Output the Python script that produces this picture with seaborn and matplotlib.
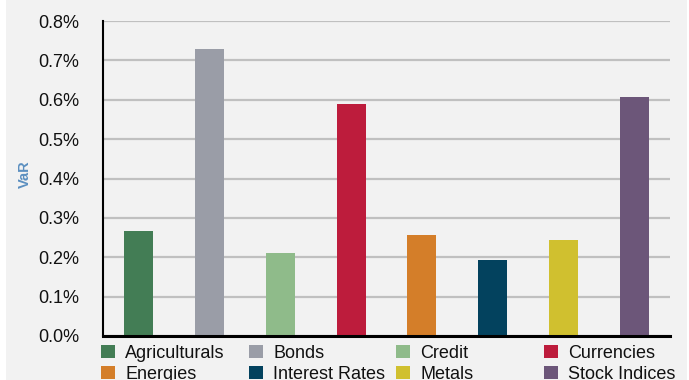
import matplotlib
matplotlib.use("Agg")
import matplotlib.pyplot as plt
import seaborn as sns
import pandas as pd
from matplotlib.patches import Rectangle, Patch
from matplotlib.ticker import FuncFormatter

categories = ["Agriculturals", "Bonds", "Credit", "Currencies",
              "Energies", "Interest Rates", "Metals", "Stock Indices"]
var_values = [0.267, 0.728, 0.212, 0.590, 0.257, 0.194, 0.245, 0.607]
colors = ["#437d55", "#9a9da7", "#8fbb8a", "#bd1c3c",
          "#d47e29", "#03425e", "#d0c02f", "#6c5679"]
y_ticks = [0.0, 0.1, 0.2, 0.3, 0.4, 0.5, 0.6, 0.7, 0.8]

df = pd.DataFrame({"cat": categories, "val": var_values})

sns.set_theme(style="white")
plt.rcParams["font.family"] = ["Liberation Sans", "DejaVu Sans"]

fig = plt.figure(figsize=(6.89, 3.80), dpi=100, facecolor="white")
fig.patches.append(Rectangle((6 / 689, 0), 1 - 8 / 689, 1, transform=fig.transFigure,
                             facecolor="#f2f2f2", edgecolor="none", zorder=-10))

ax = fig.add_axes([103 / 689, 1 - 336 / 380, 567 / 689, 315 / 380])
ax.set_facecolor("none")
ax.set_zorder(1)

sns.barplot(data=df, x="cat", y="val", hue="cat", palette=colors,
            order=categories, hue_order=categories, width=0.41,
            dodge=False, legend=False, ax=ax, saturation=1, linewidth=0)

ax.set_ylim(0, 0.8)
ax.set_xlim(-0.5, len(categories) - 0.5)
ax.set_yticks(y_ticks)
ax.yaxis.set_major_formatter(FuncFormatter(lambda v, p: f"{v:.1f}%"))
ax.tick_params(axis="y", labelsize=13, length=0, pad=17, colors="#111111")
ax.set_xticks([])
ax.set_xlabel("")
ax.set_ylabel("VaR", fontsize=10.5, fontweight="bold", color="#5b8fc0")
ax.yaxis.set_label_coords(-0.126, 0.514)

ax.grid(axis="y", color="#c0c0c0", linewidth=1.6, zorder=0)
ax.set_axisbelow(True)
for s in ["top", "right"]:
    ax.spines[s].set_visible(False)
ax.spines["left"].set_color("black")
ax.spines["left"].set_linewidth(1.5)
ax.spines["bottom"].set_color("black")
ax.spines["bottom"].set_linewidth(2.2)

# legend: 4 columns of 2 entries, evenly spaced, row-wise order
col_x = [101, 249, 396, 544]
for c in range(4):
    idx = [c, c + 4]
    handles = [Patch(facecolor=colors[i], edgecolor="none") for i in idx]
    labels = [categories[i] for i in idx]
    leg = fig.legend(handles, labels, loc="upper left",
                     bbox_to_anchor=(col_x[c] / 689, 1 - 345 / 380),
                     frameon=False, fontsize=13, handlelength=0.75,
                     handleheight=0.75, handletextpad=0.6, labelspacing=0.2,
                     borderpad=0, borderaxespad=0)
    leg.set_zorder(2)
    for t in leg.get_texts():
        t.set_color("#111111")

fig.savefig("out.png", dpi=100, facecolor="white")
